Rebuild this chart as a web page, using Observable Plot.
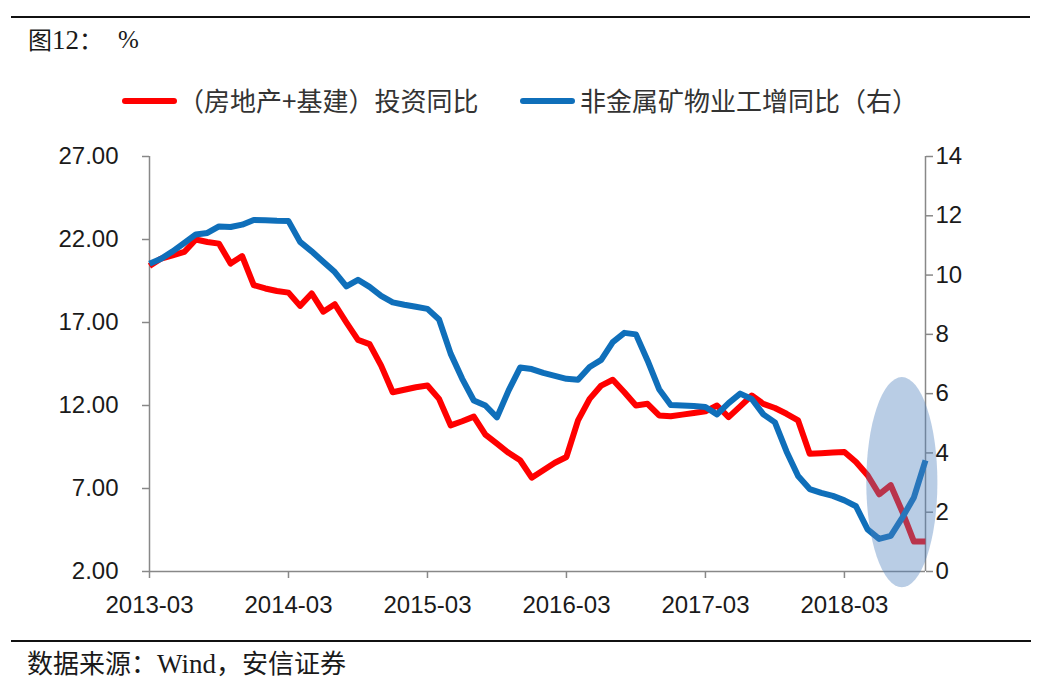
<!DOCTYPE html>
<html>
<head>
<meta charset="utf-8">
<script src="https://cdn.jsdelivr.net/npm/d3@7"></script>
<script src="https://cdn.jsdelivr.net/npm/@observablehq/plot@0.6"></script>
<style>
  html, body { margin: 0; padding: 0; background: #fff; }
  #page { position: relative; width: 1038px; height: 685px; overflow: hidden; font-family: "Liberation Serif", "Noto Sans CJK SC", serif; color: #1a1a1a; }
  .rule { position: absolute; height: 2px; background: #111; }
  .abs { position: absolute; white-space: nowrap; line-height: 1; }
  #chart { position: absolute; left: 0; top: 140px; }
  .legend-text { font-family: "Noto Sans CJK SC", sans-serif; font-size: 26px; color: #333; line-height: 1; }
  .swatch { position: absolute; height: 6px; border-radius: 3px; }
</style>
</head>
<body>
<div id="page">
  <div class="rule" style="left:11px; top:16px; width:1019px;"></div>
  <div class="abs" style="left:28px; top:27px; font-size:24px;">图<span style="font-size:27px;">12</span>：</div>
  <div class="abs" style="left:118px; top:27px; font-size:25px;">%</div>

  <div class="swatch" style="left:122px; top:98px; width:55px; background:#f00;"></div>
  <div class="abs legend-text" style="left:178px; top:87px;">（房地产+基建）投资同比</div>
  <div class="swatch" style="left:520px; top:98px; width:55px; background:#0f6fba;"></div>
  <div class="abs legend-text" style="left:580px; top:87px;">非金属矿物业工增同比（右）</div>

  <div id="chart"></div>

  <div class="rule" style="left:11px; top:640px; width:1020px; height:1.5px;"></div>
  <div class="abs" style="left:27px; top:651px; font-size:26px;">数据来源：<span style="font-size:27px;">Wind</span>，安信证券</div>
</div>
<script>
// ---- data ----
const months = d3.utcMonth.range(new Date(Date.UTC(2013, 2, 1)), new Date(Date.UTC(2018, 10, 1))).map(d3.utcFormat("%Y-%m"));
const xTicks = ["2013-03", "2014-03", "2015-03", "2016-03", "2017-03", "2018-03"];
const leftTicks = [2, 7, 12, 17, 22, 27];
const rightTicks = [0, 2, 4, 6, 8, 10, 12, 14];

// (房地产+基建)投资同比, left axis
const investYoY = [
  20.4, 20.85, 21.05, 21.25, 22.0, 21.85, 21.75, 20.55, 21.0, 19.25,
  19.05, 18.9, 18.8, 18.0, 18.75, 17.65, 18.1, 17.0, 15.95, 15.7,
  14.4, 12.8, 12.95, 13.1, 13.2, 12.4, 10.8, 11.05, 11.33, 10.25,
  9.7, 9.15, 8.7, 7.65, 8.1, 8.55, 8.9, 11.1, 12.4, 13.2,
  13.55, 12.8, 12.0, 12.1, 11.4, 11.35, 11.45, 11.55, 11.65, 12.0,
  11.3, 11.95, 12.6, 12.1, 11.85, 11.5, 11.1, 9.1, 9.13, 9.17,
  9.2, 8.6, 7.8, 6.65, 7.2, 5.6, 3.8, 3.8
];
// 非金属矿物业工增同比, right axis
const mineralYoY = [
  10.38, 10.55, 10.8, 11.08, 11.37, 11.42, 11.64, 11.62, 11.7, 11.86,
  11.85, 11.83, 11.82, 11.12, 10.8, 10.45, 10.1, 9.62, 9.84, 9.6,
  9.3, 9.08, 9.0, 8.93, 8.86, 8.5, 7.35, 6.5, 5.77, 5.6,
  5.2, 6.1, 6.88, 6.83, 6.7, 6.6, 6.5, 6.47, 6.9, 7.14,
  7.74, 8.05, 8.0, 7.12, 6.15, 5.62, 5.6, 5.58, 5.55, 5.3,
  5.68, 6.0, 5.82, 5.3, 5.03, 4.05, 3.22, 2.78, 2.65, 2.55,
  2.4, 2.2, 1.42, 1.1, 1.2, 1.82, 2.5, 3.75
];
// highlight ellipse annotation: centre month/value, half-width in months, half-height in left-axis units
const highlightMonth = "2018-08";
const highlightValue = 7.35;
const highlightHalfMonths = 3.07;
const highlightHalfValue = 6.33;

// ---- build ----
const leftMin = 2, leftMax = 27, rightMin = 0, rightMax = 14;
const toLeft = r => leftMin + (r - rightMin) * (leftMax - leftMin) / (rightMax - rightMin);
const fromLeft = v => rightMin + (v - leftMin) * (rightMax - rightMin) / (leftMax - leftMin);

const redData = months.map((m, i) => ({month: m, value: investYoY[i]}));
const blueData = months.map((m, i) => ({month: m, value: toLeft(mineralYoY[i])}));

const axisColor = "#888";
const textColor = "#1a1a1a";

const ellipseMark = (index, scales) => {
  const step = scales.x(months[1]) - scales.x(months[0]);
  const cx = scales.x(highlightMonth);
  const cy = scales.y(highlightValue);
  const ry = Math.abs(scales.y(highlightValue + highlightHalfValue) - cy);
  const g = d3.create("svg:g");
  g.append("ellipse")
    .attr("cx", cx).attr("cy", cy)
    .attr("rx", highlightHalfMonths * step).attr("ry", ry)
    .attr("fill", "#4f81bd").attr("fill-opacity", 0.4);
  return g.node();
};

const chart = Plot.plot({
  width: 1038,
  height: 490,
  marginTop: 16,
  marginBottom: 59,
  marginLeft: 149,
  marginRight: 113,
  style: {fontFamily: "'Liberation Sans', Arial, sans-serif", fontSize: "24px", color: textColor, background: "transparent", overflow: "visible"},
  x: {type: "point", domain: months, padding: 0},
  y: {domain: [leftMin, leftMax]},
  marks: [
    Plot.axisX({ticks: xTicks, tickFormat: d => d, tickSize: 7, tickPadding: 17, stroke: axisColor, strokeWidth: 1.5, fill: textColor, fontSize: 24, label: null}),
    Plot.axisY({ticks: leftTicks, tickFormat: d3.format(".2f"), tickSize: 7, tickPadding: 24, stroke: axisColor, strokeWidth: 1.5, fill: textColor, fontSize: 24, label: null}),
    Plot.axisY({anchor: "right", ticks: rightTicks.map(toLeft), tickFormat: v => String(Math.round(fromLeft(v))), tickSize: 7, tickPadding: 3, stroke: axisColor, strokeWidth: 1.5, fill: textColor, fontSize: 24, label: null}),
    Plot.ruleY([leftMin], {stroke: axisColor, strokeWidth: 1.5}),
    Plot.ruleX([months[0], months[months.length - 1]], {stroke: axisColor, strokeWidth: 1.5}),
    Plot.line(redData, {x: "month", y: "value", stroke: "#f00", strokeWidth: 6, strokeLinejoin: "round", strokeLinecap: "butt"}),
    Plot.line(blueData, {x: "month", y: "value", stroke: "#0f6fba", strokeWidth: 6, strokeLinejoin: "round", strokeLinecap: "butt"}),
    ellipseMark
  ]
});
document.getElementById("chart").appendChild(chart);
</script>
</body>
</html>
